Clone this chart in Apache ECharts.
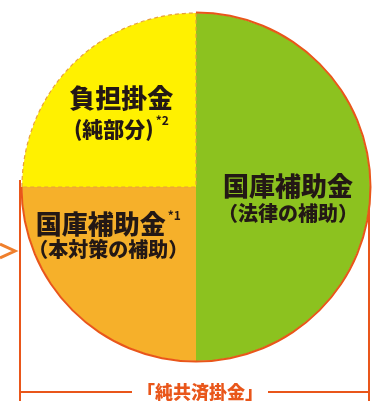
<!DOCTYPE html>
<html>
<head>
<meta charset="utf-8">
<script src="https://cdn.jsdelivr.net/npm/echarts@6/dist/echarts.min.js"></script>
<style>
html,body{margin:0;padding:0;background:#fff;}
#c{width:373px;height:401px;}
</style>
</head>
<body>
<div id="c"></div>
<script>
// ---- data ----
const names = ['国庫補助金', '国庫補助金', '負担掛金'];
const subNames = ['（法律の補助）', '（本対策の補助）', '(純部分)'];
const notes = ['', '*1', '*2'];
const values = [50, 25, 25];
const totalLabel = '「純共済掛金」';

// ---- styles ----
const fills = ['#8cc21f', '#f6b02a', '#fff100'];
const red = '#e9561a';
const textColor = '#231815';
const labelOffsets = [[2, 12], [-24, -15], [-11, -10]];
const mainLH = [28, 28, 32];
const subLH = [26, 24, 30];

const center = [196, 187];
const R = 174;

const chart = echarts.init(document.getElementById('c'), null, {renderer: 'canvas'});

const pieData = values.map((v, i) => ({
  value: v,
  name: names[i] + i,
  itemStyle: i === 2
    ? {color: fills[i], borderColor: '#e8a13a', borderWidth: 1.2, borderType: [4, 3]}
    : {color: fills[i], borderWidth: 0},
  label: {
    offset: labelOffsets[i],
    formatter: '{m|' + names[i] + '}' + (notes[i] && i === 1 ? '{sup|' + notes[i] + '}' : '') +
      '\n{s|' + subNames[i] + '}' + (notes[i] && i === 2 ? '{sup|' + notes[i] + '}' : ''),
    rich: {
      m: {fontSize: 26, fontWeight: 900, color: textColor, lineHeight: mainLH[i],
          fontFamily: '"Noto Sans CJK JP"'},
      s: {fontSize: i === 2 ? 21 : 20, fontWeight: 900, color: textColor, lineHeight: subLH[i],
          fontFamily: '"Noto Sans CJK JP"'},
      sup: {fontSize: 12, fontWeight: 'bold', color: textColor, verticalAlign: 'top',
            lineHeight: 14, padding: [0, 0, i === 1 ? 10 : 10, 2], fontFamily: '"Noto Sans CJK JP"'}
    }
  }
}));

const ringData = values.map((v, i) => ({
  value: v,
  name: 'ring' + i,
  itemStyle: {color: i === 2 ? 'rgba(0,0,0,0)' : red}
}));

chart.setOption({
  animation: false,
  backgroundColor: '#fff',
  series: [
    {
      type: 'pie',
      silent: true,
      center: center,
      radius: [0, R],
      startAngle: 90,
      clockwise: true,
      avoidLabelOverlap: false,
      label: {show: true, position: 'inside', align: 'center'},
      labelLine: {show: false},
      data: pieData,
      z: 2
    },
    {
      type: 'pie',
      silent: true,
      center: center,
      radius: [R - 0.5, R + 1.5],
      startAngle: 90,
      clockwise: true,
      label: {show: false},
      labelLine: {show: false},
      data: ringData,
      z: 3
    }
  ],
  graphic: [
    // bracket
    {type: 'line', shape: {x1: 20, y1: 180, x2: 20, y2: 401}, style: {stroke: red, lineWidth: 2}},
    {type: 'line', shape: {x1: 369, y1: 187, x2: 369, y2: 401}, style: {stroke: red, lineWidth: 2}},
    {type: 'line', shape: {x1: 20, y1: 392, x2: 369, y2: 392}, style: {stroke: red, lineWidth: 2}},
    {type: 'text', x: 200, y: 392, style: {
      text: totalLabel, fill: red, font: '900 18px "Noto Sans CJK JP"',
      align: 'center', verticalAlign: 'middle', backgroundColor: '#fff', padding: [0, 5]
    }},
    // arrow chevron
    {type: 'polyline', shape: {points: [[0, 244], [15, 251], [0, 258]]},
     style: {stroke: '#ef7f2d', lineWidth: 3, fill: null}}
  ]
});
</script>
</body>
</html>
